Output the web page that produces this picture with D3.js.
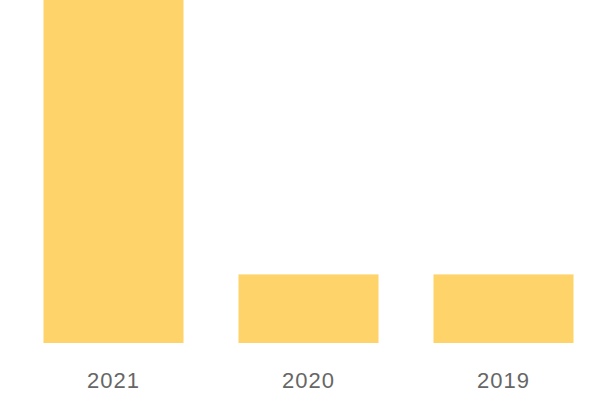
<!DOCTYPE html>
<html>
<head>
<meta charset="utf-8">
<script src="https://cdn.jsdelivr.net/npm/d3@7"></script>
<style>
  html, body { margin: 0; padding: 0; background: #fff; }
  svg { display: block; }
</style>
</head>
<body>
<svg id="chart" width="600" height="400"></svg>
<script>
const categories = ["2021", "2020", "2019"];
const values = [5, 1, 1];

const svg = d3.select("#chart");
const x = d3.scaleBand().domain(categories).range([16, 601]).paddingInner(0.282).paddingOuter(0.141);
const y = d3.scaleLinear().domain([0, 5]).range([343, 0]);

svg.selectAll("rect.bar")
  .data(categories)
  .join("rect")
  .attr("class", "bar")
  .attr("x", d => x(d))
  .attr("width", x.bandwidth())
  .attr("y", (d, i) => y(values[i]))
  .attr("height", (d, i) => y(0) - y(values[i]))
  .attr("fill", "#fed46a");

const axis = d3.axisBottom(x).tickSize(0).tickPadding(0);
const g = svg.append("g").attr("transform", "translate(0,372)").call(axis);
g.select(".domain").remove();
g.selectAll("text")
  .attr("dy", "0")
  .attr("y", 16)
  .attr("fill", "#666")
  .style("font-family", "'Liberation Sans', Arial, sans-serif")
  .style("font-size", "22px")
  .style("letter-spacing", "1px");
</script>
</body>
</html>
